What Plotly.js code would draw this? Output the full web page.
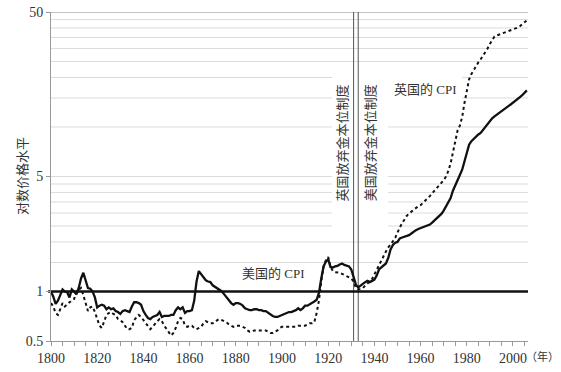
<!DOCTYPE html>
<html>
<head>
<meta charset="utf-8">
<script src="https://cdn.plot.ly/plotly-3.0.1.min.js"></script>
<style>html,body{margin:0;padding:0;background:#fff;}#chart{width:561px;height:372px;}</style>
</head>
<body>
<div id="chart"></div>
<script>
// ---- data ----
const startYear = 1800;
const usCPI = [
  1.00,0.93,0.84,0.88,0.95,1.03,1.00,0.99,0.92,1.03,
  1.00,0.96,1.05,1.20,1.30,1.18,1.05,1.04,1.00,0.92,
  0.80,0.82,0.83,0.82,0.78,0.80,0.78,0.79,0.76,0.75,
  0.73,0.76,0.77,0.76,0.75,0.81,0.86,0.86,0.85,0.83,
  0.76,0.72,0.69,0.68,0.70,0.71,0.72,0.75,0.70,0.71,
  0.71,0.71,0.72,0.72,0.77,0.80,0.78,0.80,0.74,0.76,
  0.76,0.77,0.88,1.15,1.33,1.28,1.22,1.17,1.15,1.14,
  1.09,1.07,1.05,1.03,1.00,0.96,0.92,0.88,0.85,0.83,
  0.85,0.85,0.84,0.82,0.79,0.78,0.77,0.77,0.78,0.78,
  0.77,0.77,0.76,0.76,0.74,0.72,0.71,0.70,0.70,0.71,
  0.72,0.73,0.74,0.75,0.75,0.76,0.77,0.79,0.77,0.79,
  0.82,0.82,0.84,0.85,0.87,0.89,0.98,1.20,1.42,1.52,
  1.57,1.41,1.40,1.42,1.43,1.46,1.48,1.45,1.44,1.42,
  1.36,1.24,1.10,1.06,1.09,1.11,1.14,1.16,1.14,1.16,
  1.18,1.25,1.36,1.40,1.44,1.48,1.60,1.80,1.92,1.98,
  2.00,2.10,2.13,2.15,2.17,2.20,2.25,2.32,2.36,2.40,
  2.43,2.46,2.49,2.52,2.55,2.62,2.70,2.78,2.86,2.96,
  3.10,3.28,3.45,3.70,4.10,4.45,4.80,5.10,5.50,6.20,
  7.10,7.80,8.20,8.50,8.80,9.00,9.20,9.60,10.0,10.5,
  10.9,11.3,11.6,11.9,12.2,12.5,12.9,13.2,13.4,13.7,
  14.1,14.5,14.8,15.2,15.6,16.1,16.7
];
const ukCPI = [
  0.85,0.81,0.74,0.72,0.78,0.85,0.81,0.84,0.86,0.88,
  0.90,1.00,1.02,1.05,0.95,0.85,0.76,0.80,0.81,0.75,
  0.68,0.62,0.60,0.66,0.72,0.74,0.75,0.73,0.72,0.68,
  0.67,0.65,0.62,0.59,0.59,0.60,0.67,0.70,0.72,0.70,
  0.67,0.64,0.61,0.59,0.61,0.64,0.66,0.68,0.66,0.62,
  0.59,0.57,0.54,0.56,0.60,0.66,0.69,0.68,0.62,0.61,
  0.62,0.62,0.60,0.59,0.60,0.61,0.64,0.66,0.65,0.64,
  0.64,0.65,0.67,0.68,0.67,0.66,0.65,0.63,0.62,0.61,
  0.62,0.62,0.62,0.61,0.60,0.58,0.57,0.57,0.58,0.58,
  0.58,0.58,0.58,0.58,0.57,0.56,0.56,0.57,0.58,0.60,
  0.61,0.61,0.61,0.61,0.61,0.61,0.61,0.62,0.62,0.62,
  0.62,0.63,0.64,0.64,0.65,0.74,0.88,1.15,1.42,1.55,
  1.62,1.42,1.33,1.31,1.31,1.30,1.28,1.26,1.25,1.23,
  1.20,1.15,1.05,1.03,1.03,1.05,1.08,1.12,1.15,1.19,
  1.27,1.36,1.44,1.55,1.65,1.75,1.85,1.92,2.02,2.12,
  2.30,2.45,2.60,2.75,2.88,2.98,3.06,3.13,3.20,3.30,
  3.35,3.45,3.55,3.67,3.80,3.95,4.10,4.25,4.40,4.60,
  4.75,5.00,5.40,6.00,6.90,8.20,9.50,10.2,11.5,14.0,
  16.7,19.5,21.0,22.3,23.5,24.7,25.8,27.0,28.5,30.0,
  32.0,34.0,35.5,36.0,36.4,36.9,37.4,37.9,38.3,38.8,
  39.2,39.6,40.2,41.0,42.0,43.0,44.5
];
const years = usCPI.map((_, i) => startYear + i);
const yTickVals = [0.5, 1, 5, 50];
const yTickText = ['0.5', '1', '5', '50'];
const gridLevels = [1.5,2,2.5,3,3.5,4,4.5,5,10,15,20,25,30,35,40,45];
const topLevel = 50;
const refLevel = 1;
const ukGoldYear = 1931;
const usGoldYear = 1933;
const labelUK = '英国的 CPI';
const labelUS = '美国的 CPI';
const labelUKGold = '英国放弃金本位制度';
const labelUSGold = '美国放弃金本位制度';
const yTitle = '对数价格水平';
const xUnit = '（年）';

// ---- layout helpers ----
const W = 561, H = 372, L = 51, R = 33, T = 12, B = 31;
const pw = W - L - R, ph = H - T - B;
const px2paperX = p => (p - L) / pw;
const px2paperY = p => (H - B - p) / ph;
const FONT = 'Liberation Serif, "Noto Sans CJK SC", serif';
const TXT = '#333';

const shapes = [];
gridLevels.forEach(v => shapes.push({
  type: 'line', xref: 'paper', yref: 'y', x0: 0, x1: 1, y0: v, y1: v,
  line: {color: '#d2d2d2', width: 0.8}, layer: 'below'
}));
shapes.push({type: 'line', xref: 'paper', yref: 'y', x0: 0, x1: 1, y0: topLevel, y1: topLevel,
  line: {color: '#888', width: 1}, layer: 'below'});
// white boxes behind vertical labels and UK label
shapes.push({type: 'rect', xref: 'paper', yref: 'paper',
  x0: px2paperX(332), x1: px2paperX(388), y0: px2paperY(234), y1: px2paperY(70),
  fillcolor: '#fff', line: {width: 0}, layer: 'below'});
shapes.push({type: 'rect', xref: 'paper', yref: 'paper',
  x0: px2paperX(388), x1: px2paperX(462), y0: px2paperY(100), y1: px2paperY(70),
  fillcolor: '#fff', line: {width: 0}, layer: 'below'});
[ukGoldYear, usGoldYear].forEach(yr => shapes.push({
  type: 'line', xref: 'x', yref: 'paper', x0: yr, x1: yr, y0: 0, y1: 1,
  line: {color: '#555', width: 1}, layer: 'below'
}));
shapes.push({type: 'line', xref: 'paper', yref: 'y', x0: -0.006, x1: 1, y0: refLevel, y1: refLevel,
  line: {color: '#111', width: 2.4}, layer: 'below'});

const ann = (o) => Object.assign({showarrow: false, xanchor: 'center', yanchor: 'middle',
  font: {family: FONT, size: 13, color: TXT}}, o);
const annotations = [
  ann({text: labelUKGold, xref: 'x', yref: 'paper', x: ukGoldYear, xshift: -12, y: px2paperY(143), textangle: -90}),
  ann({text: labelUSGold, xref: 'x', yref: 'paper', x: usGoldYear, xshift: 12, y: px2paperY(143), textangle: -90}),
  ann({text: labelUK, xref: 'paper', yref: 'paper', x: px2paperX(425), y: px2paperY(89)}),
  ann({text: labelUS, xref: 'paper', yref: 'paper', x: px2paperX(273), y: px2paperY(273)}),
  ann({text: yTitle, xref: 'paper', yref: 'paper', x: px2paperX(22), y: px2paperY(176), textangle: -90}),
  ann({text: xUnit, xref: 'paper', yref: 'paper', x: px2paperX(542), y: px2paperY(356),
       font: {family: FONT, size: 11, color: TXT}})
];

const traces = [
  {x: years, y: ukCPI, type: 'scatter', mode: 'lines', name: '英国',
   line: {color: '#111', width: 2, dash: 'dot'}},
  {x: years, y: usCPI, type: 'scatter', mode: 'lines', name: '美国',
   line: {color: '#111', width: 2.3}}
];

const layout = {
  width: W, height: H,
  margin: {l: L, r: R, t: T, b: B, pad: 0},
  paper_bgcolor: '#fff', plot_bgcolor: '#fff',
  showlegend: false,
  font: {family: FONT, color: TXT, size: 14},
  xaxis: {
    range: [1800, 2006.5], tick0: 1800, dtick: 20, showgrid: false, zeroline: false,
    showline: true, linecolor: '#999', linewidth: 1,
    ticks: 'outside', ticklen: 4, tickcolor: '#999',
    tickfont: {family: FONT, size: 14, color: TXT},
    minor: {dtick: 5, ticks: 'outside', ticklen: 4, tickcolor: '#999', showgrid: false}
  },
  yaxis: {
    type: 'log', range: [Math.log10(0.5), Math.log10(50)],
    tickvals: yTickVals, ticktext: yTickText, showgrid: false, zeroline: false,
    showline: true, linecolor: '#999', linewidth: 1,
    ticks: 'outside', ticklen: 4, tickcolor: '#999',
    tickfont: {family: FONT, size: 14, color: TXT}
  },
  shapes: shapes,
  annotations: annotations
};

Plotly.newPlot('chart', traces, layout, {staticPlot: true, displayModeBar: false});
</script>
</body>
</html>
